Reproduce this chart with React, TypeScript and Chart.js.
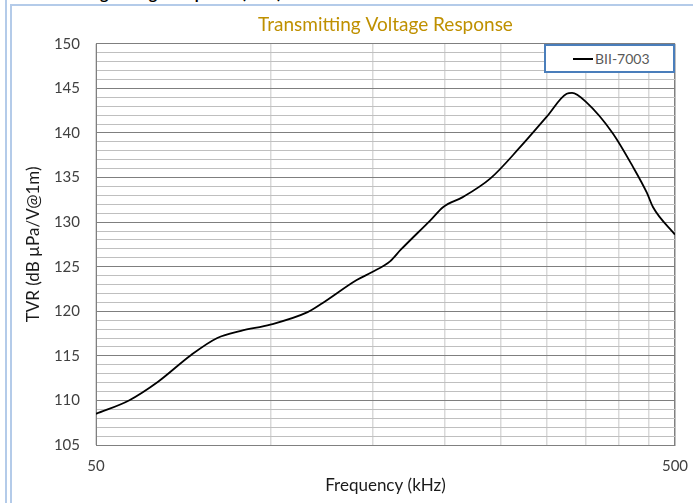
import { useEffect, useRef } from 'react';
import { Chart, registerables } from 'chart.js';

Chart.register(...registerables);

const seriesName = 'BII-7003';
const chartTitle = 'Transmitting Voltage Response';
const xAxisTitle = 'Frequency (kHz)';
const yAxisTitle = 'TVR (dB µPa/V@1m)';
const headingText = 'Transmitting Voltage Response (TVR)';

const frequencyKHz = [50, 57, 64, 73, 81, 89, 100, 116, 123, 141, 150, 161, 168, 189, 199, 215, 240, 270, 300, 325, 332, 352, 390, 423, 447, 458, 500];
const tvrDb = [108.5, 110.0, 112.1, 115.1, 117.0, 117.8, 118.5, 119.9, 120.9, 123.5, 124.4, 125.6, 126.9, 130.2, 131.7, 132.8, 134.9, 138.4, 141.8, 144.4, 144.5, 143.4, 140.0, 136.2, 133.3, 131.7, 128.6];

const xGridValues = [50, 100, 150, 200, 250, 300, 350, 400, 450, 500];
const xLabelValues = [50, 500];
const yMin = 105;
const yMax = 150;
const yMajorStep = 5;

const FONT = 'Lato, "Open Sans", sans-serif';

export default function App() {
  const canvasRef = useRef<HTMLCanvasElement | null>(null);

  useEffect(() => {
    if (!canvasRef.current) return;
    const chart = new Chart(canvasRef.current, {
      type: 'scatter',
      data: {
        datasets: [
          {
            label: seriesName,
            data: frequencyKHz.map((x, i) => ({ x, y: tvrDb[i] })),
            showLine: true,
            borderColor: '#000000',
            borderWidth: 1.8,
            pointRadius: 0,
            tension: 0.4,
            cubicInterpolationMode: 'monotone',
            fill: false,
          } as any,
        ],
      },
      options: {
        animation: false,
        responsive: false,
        maintainAspectRatio: false,
        layout: { padding: { left: 20, right: 18, top: 0, bottom: 4 } },
        plugins: {
          legend: { display: false },
          tooltip: { enabled: false },
          title: {
            display: true,
            text: chartTitle,
            color: '#bf9000',
            fullSize: false,
            font: { family: FONT, size: 19, weight: 'normal' as any },
            padding: { top: 13, bottom: 8 },
          },
        },
        scales: {
          x: {
            type: 'logarithmic',
            min: 50,
            max: 500,
            afterBuildTicks: (s: any) => {
              s.ticks = xGridValues.map((v) => ({ value: v }));
            },
            afterFit: (s: any) => {
              s.height = 54;
              s.paddingLeft = 0;
              s.paddingRight = 0;
            },
            ticks: {
              autoSkip: false,
              maxRotation: 0,
              padding: 12,
              color: '#404040',
              font: { family: FONT, size: 15 },
              callback: (v: any) => (xLabelValues.includes(Number(v)) ? String(v) : ''),
            },
            grid: {
              drawTicks: false,
              lineWidth: 1.5,
              color: (ctx: any) => (ctx.tick && ctx.tick.value === 500 ? '#808080' : '#d9d9d9'),
            },
            border: { color: '#808080', width: 1 },
            title: {
              display: true,
              text: xAxisTitle,
              color: '#1a1a1a',
              font: { family: FONT, size: 17 },
              padding: { top: 4, bottom: 3 },
            },
          },
          y: {
            min: yMin,
            max: yMax,
            afterFit: (s: any) => {
              s.width = 76;
            },
            ticks: {
              stepSize: 1,
              autoSkip: false,
              padding: 16,
              color: '#404040',
              font: { family: FONT, size: 15 },
              callback: (v: any) => (Number(v) % yMajorStep === 0 ? String(v) : ''),
            },
            grid: {
              drawTicks: false,
              lineWidth: 1,
              color: (ctx: any) => (ctx.tick && ctx.tick.value % yMajorStep === 0 ? '#7f7f7f' : '#bfbfbf'),
            },
            border: { color: '#7f7f7f', width: 1 },
            title: {
              display: true,
              text: yAxisTitle,
              color: '#1a1a1a',
              font: { family: FONT, size: 17 },
              padding: { top: 3, bottom: 4 },
            },
          },
        },
      },
    });
    return () => chart.destroy();
  }, []);

  return (
    <div
      style={{
        position: 'fixed',
        left: 0,
        top: 0,
        width: 693,
        height: 503,
        overflow: 'hidden',
        background: '#ffffff',
        fontFamily: FONT,
      }}
    >
      <div
        style={{
          position: 'absolute',
          left: 20,
          top: -15,
          fontWeight: 'bold',
          fontSize: 16,
          lineHeight: '16px',
          color: '#000',
          whiteSpace: 'nowrap',
        }}
      >
        {headingText}
      </div>
      <div style={{ position: 'absolute', left: 5, top: 0, width: 2, height: 503, background: '#b4cbe9' }} />
      <div style={{ position: 'absolute', left: 10, top: 4, width: 2, height: 499, background: '#b4cbe9' }} />
      <div style={{ position: 'absolute', left: 10, top: 4, width: 683, height: 2, background: '#b4cbe9' }} />
      <canvas
        ref={canvasRef}
        width={693}
        height={503}
        style={{ position: 'absolute', left: 0, top: 0, width: 693, height: 503 }}
      />
      <div
        style={{
          position: 'absolute',
          left: 544,
          top: 44,
          width: 127,
          height: 25,
          border: '2px solid #4a7ebb',
          background: '#ffffff',
          display: 'flex',
          alignItems: 'center',
        }}
      >
        <div style={{ marginLeft: 27, width: 20, height: 2, background: '#000' }} />
        <div style={{ marginLeft: 2, fontSize: 14, color: '#595959', lineHeight: '14px' }}>{seriesName}</div>
      </div>
    </div>
  );
}
